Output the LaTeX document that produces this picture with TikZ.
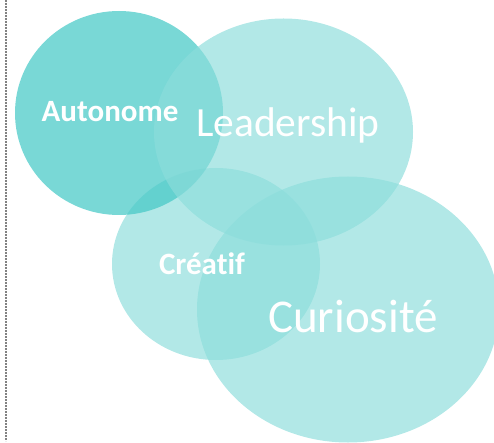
\documentclass[tikz,border=0pt]{standalone}
\usepackage{fontspec}
\setmainfont[RawFeature={-liga}]{Carlito}
\usetikzlibrary{shapes.geometric}
\definecolor{autoC}{RGB}{71,201,199}
\definecolor{lightC}{RGB}{140,221,219}
\definecolor{dashC}{RGB}{130,130,130}
\tikzset{
  blob/.style={ellipse, inner sep=0pt, outer sep=0pt, draw=none},
  lightblob/.style={blob, fill=lightC, fill opacity=0.67},
  darkblob/.style={blob, fill=autoC, fill opacity=0.73},
  boldlabel/.style={text=white, anchor=base, inner sep=0pt, font=\bfseries\fontsize{31}{31}\selectfont},
  biglabel/.style={text=white, anchor=base, inner sep=0pt},
  sepline/.style={draw=dashC, line width=1.1pt, dash pattern=on 2pt off 1pt}
}
\begin{document}
\begin{tikzpicture}[x=1pt,y=-1pt]
\useasboundingbox (0,0) rectangle (494,443);
\clip (0,0) rectangle (494,443);
\coordinate (ltop) at (6,0);
\coordinate (lbot) at (6,441);
\draw[sepline] (ltop) -- (lbot);
\node[lightblob, minimum width=208pt, minimum height=192pt] (creatif) at (216,264) {};
\node[darkblob, minimum width=208pt, minimum height=204pt] (autonome) at (119,113) {};
\node[lightblob, minimum width=259pt, minimum height=227pt] (leadership) at (283.5,132) {};
\node[lightblob, minimum width=302pt, minimum height=266pt] (curiosite) at (348,309.5) {};
\node[boldlabel] (tautonome) at (110,122) {Autonome};
\node[biglabel, font=\fontsize{41.5}{41.5}\selectfont] (tleadership) at (288,137) {Leadership};
\node[boldlabel] (tcreatif) at (202,274) {Créatif};
\node[biglabel, font=\fontsize{47}{47}\selectfont] (tcuriosite) at (353,332) {Curiosité};
\end{tikzpicture}
\end{document}
